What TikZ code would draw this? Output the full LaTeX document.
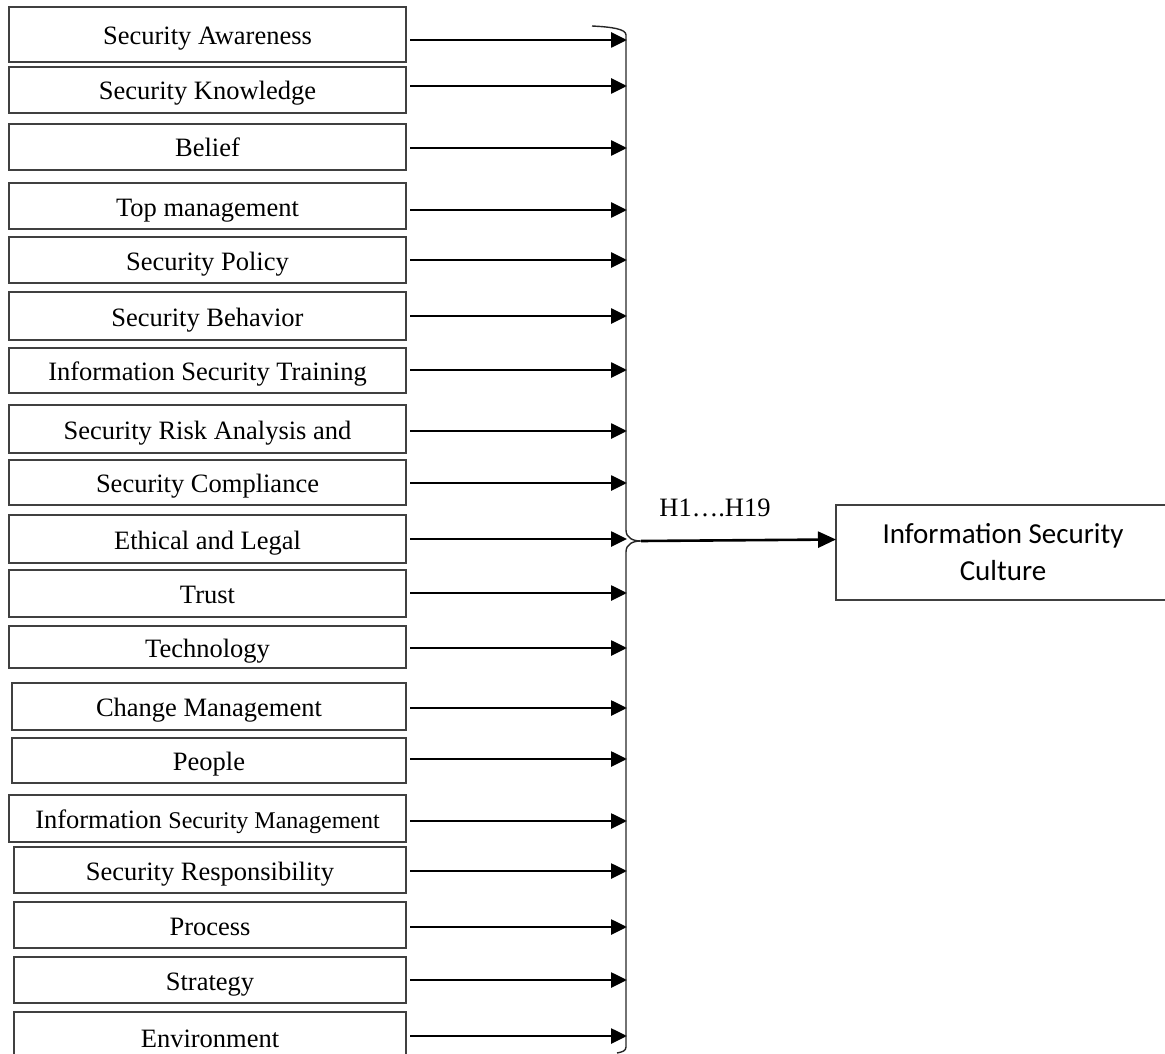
\documentclass[tikz,border=0pt]{standalone}
\usepackage{fontspec}
\setmainfont{Liberation Serif}
\newfontfamily\calibrifont{Carlito}
\usetikzlibrary{arrows.meta,calc}

\begin{document}
\begin{tikzpicture}[x=1pt, y=-1pt,
  factor/.style={draw=black!75, line width=1.1pt, rectangle, inner sep=0pt, outer sep=0pt,
    font=\fontsize{26.5}{30}\selectfont, text depth=0pt, text height=20pt},
  target/.style={draw=black!75, line width=1.1pt, rectangle, inner sep=0pt, outer sep=0pt,
    minimum width=334pt, minimum height=95pt, align=center,
    font=\calibrifont\fontsize{29}{37}\selectfont},
  arrow/.style={-{Triangle[length=16pt, width=15pt]}, line width=2.6pt},
  bigarrow/.style={-{Triangle[length=18pt, width=16pt]}, line width=2.6pt},
  brace/.style={draw=black!85, line width=1.4pt}
]
\useasboundingbox (0,0) rectangle (1165,1054);
\clip (0,0) rectangle (1165,1054);

\foreach \i/\tp/\bt/\lf/\ay/\txt in {
  1/7/62/9/40/Security Awareness,
  2/67/113/9/86/Security Knowledge,
  3/124/170/9/148/Belief,
  4/183/229/9/210/Top management,
  5/237/283/9/260/Security Policy,
  6/292/340/9/316/Security Behavior,
  7/348/393/9/370/Information Security Training,
  8/405/453/9/431/Security Risk Analysis and,
  9/460/505/9/483/Security Compliance,
  10/515/563/9/539/Ethical and Legal,
  11/570/617/9/593/Trust,
  12/626/668/9/648/Technology,
  13/683/730/12/708/Change Management,
  14/738/783/12/759/People,
  15/795/842/9/821/{Information {\fontsize{24}{28}\selectfont Security Management}},
  16/847/893/14/871/Security Responsibility,
  17/902/948/14/927/Process,
  18/957/1003/14/980/Strategy,
  19/1012/1062/14/1036/Environment}{
  \node[factor, minimum width={(406-\lf)*1pt}, minimum height={(\bt-\tp)*1pt}]
    (f\i) at ({(\lf+406)/2},{(\tp+\bt)/2}) {\txt};
  \coordinate (t\i) at (627,\ay);
  \draw[arrow, shorten <=4pt] (f\i.east |- t\i) -- (t\i);
}

\coordinate (tip) at (641,541);
\draw[brace] (592,26) .. controls (612,27) and (626,29) .. (626,35)
  -- (626,530) .. controls (626,538) and (633,541) .. (tip)
  .. controls (633,541) and (626,544) .. (626,552)
  -- (626,1047) .. controls (626,1051) and (622,1052) .. (617,1053);

\node[target] (isc) at (1003,552.5) {Information Security\\Culture};
\draw[bigarrow] (tip) -- ([yshift=13pt]isc.west);
\node[font=\fontsize{26.5}{30}\selectfont] (hlab) at (715,508) {H1….H19};
\end{tikzpicture}
\end{document}
